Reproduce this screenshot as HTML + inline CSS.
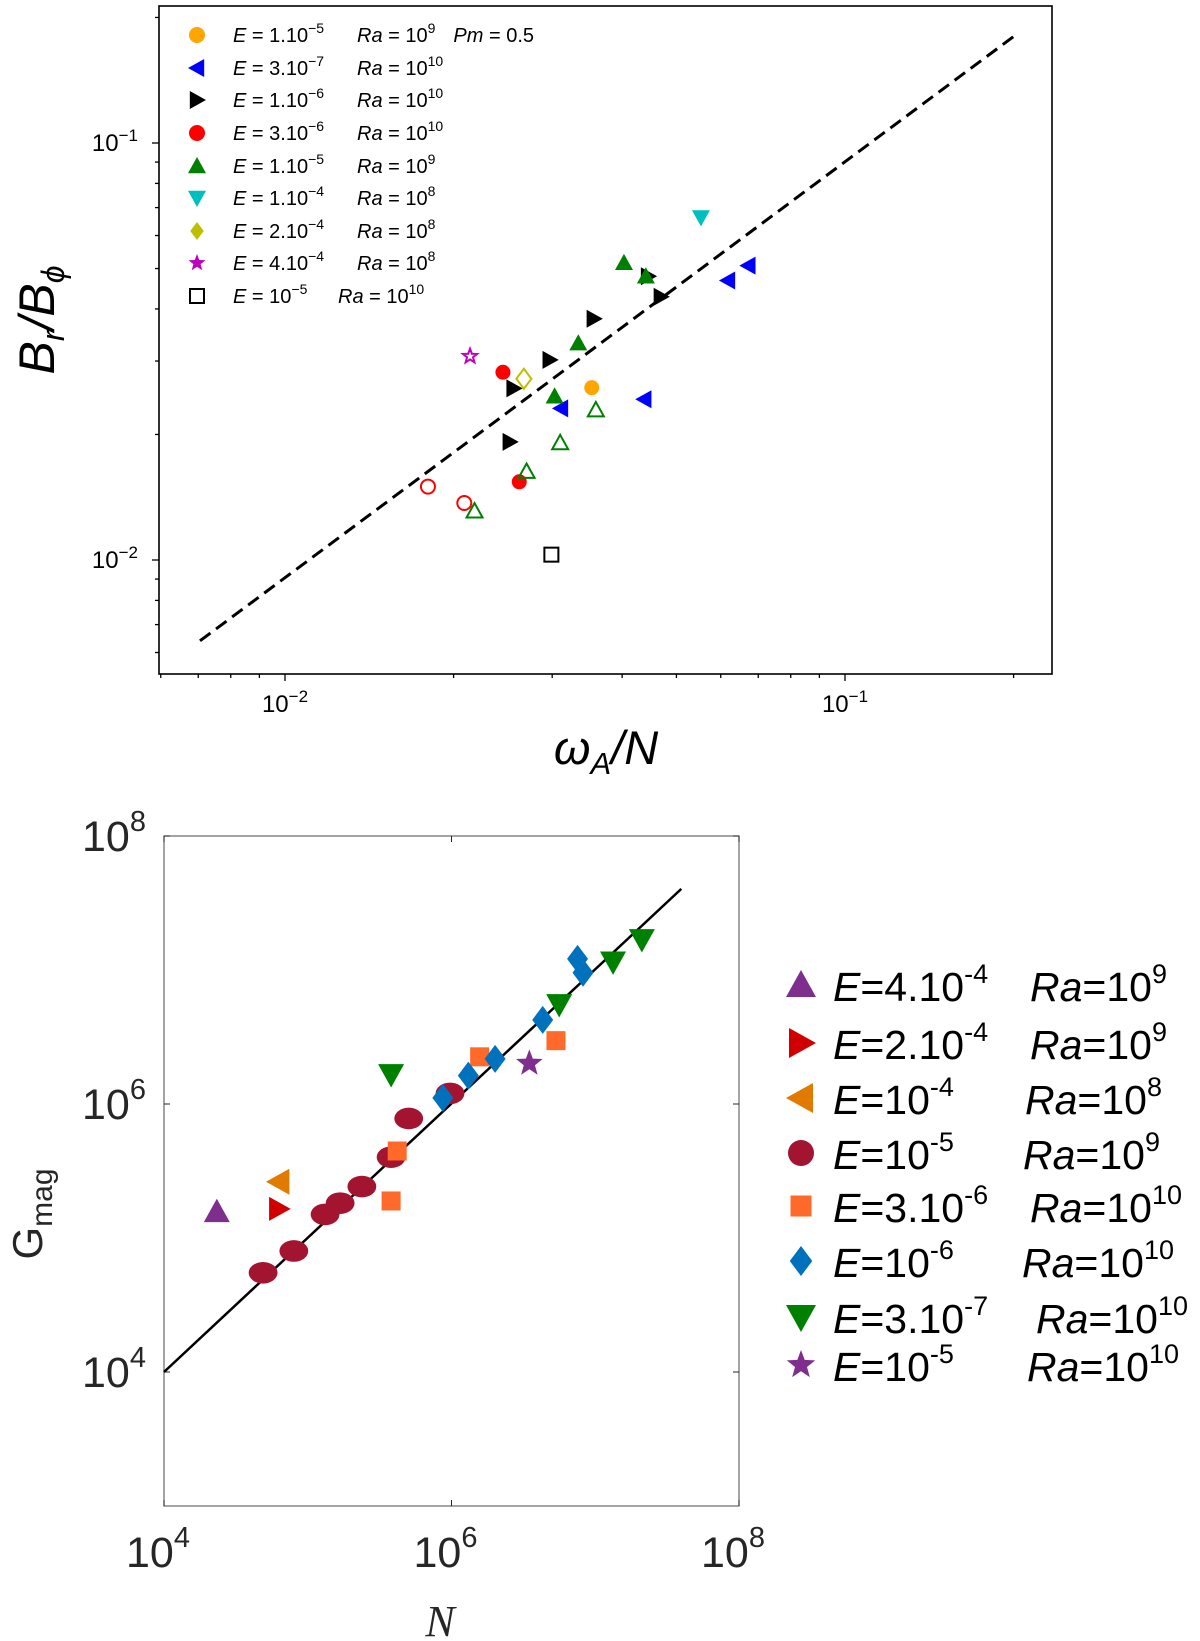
<!DOCTYPE html>
<html><head><meta charset="utf-8"><style>
html,body{margin:0;padding:0;background:#fff;}
svg{display:block;font-family:"Liberation Sans","DejaVu Sans",sans-serif;}
</style></head><body>
<svg id="fig" width="1200" height="1641" viewBox="0 0 1200 1641" xmlns="http://www.w3.org/2000/svg">
<g id="top"></g>
<g id="bot"></g>
</svg>
<script>
// ---------- TOP CHART DATA ----------
const topSeriesNames = ["E1e-5 Pm0.5","E3e-7","E1e-6","E3e-6","E3e-6 open","E1e-5","E1e-5 open","E1e-4","E2e-4","E4e-4","E1e-5 Ra1e10"];
const topOrangeX = [0.0353]; const topOrangeY = [0.0259];
const topBlueX = [0.0672,0.0618,0.0438,0.0311]; const topBlueY = [0.0508,0.0468,0.0243,0.0231];
const topBlackX = [0.0445,0.0469,0.0356,0.0297,0.0256,0.0252]; const topBlackY = [0.0479,0.0428,0.0379,0.0302,0.0258,0.0192];
const topRedX = [0.0245,0.0262]; const topRedY = [0.0282,0.0154];
const topRedOpenX = [0.0180,0.0209]; const topRedOpenY = [0.0150,0.0137];
const topGreenX = [0.0403,0.0441,0.0334,0.0303]; const topGreenY = [0.0516,0.0479,0.0331,0.0247];
const topGreenOpenX = [0.0359,0.0310,0.0270,0.0218]; const topGreenOpenY = [0.0229,0.0191,0.0163,0.0131];
const topCyanX = [0.0553]; const topCyanY = [0.0663];
const topYellowX = [0.0267]; const topYellowY = [0.0272];
const topMagentaX = [0.0214]; const topMagentaY = [0.0308];
const topSquareX = [0.0299]; const topSquareY = [0.0103];
const topFitX = [0.00705,0.2]; const topFitY = [0.0064,0.18];
const topXTicks = [0.01,0.1]; const topXTickLabels = ["−2","−1"];
const topYTicks = [0.01,0.1]; const topYTickLabels = ["−2","−1"];

// ---------- BOTTOM CHART DATA ----------
const botPurpleTriX=[2.33e4]; const botPurpleTriY=[1.57e5];
const botRedTriX=[6.28e4]; const botRedTriY=[1.65e5];
const botOrangeTriX=[6.31e4]; const botOrangeTriY=[2.63e5];
const botCircleX=[4.89e4,8.0e4,1.32e5,1.68e5,2.38e5,3.80e5,5.04e5,9.77e5];
const botCircleY=[5.5e4,8.0e4,1.50e5,1.82e5,2.42e5,4.01e5,7.80e5,1.20e6];
const botSquareX=[4.19e5,3.80e5,1.57e6,5.33e6]; const botSquareY=[4.46e5,1.89e5,2.25e6,2.97e6];
const botDiamondX=[8.71e5,1.31e6,2.01e6,4.31e6,7.53e6,8.22e6]; const botDiamondY=[1.11e6,1.63e6,2.17e6,4.24e6,1.21e7,9.53e6];
const botGreenX=[3.80e5,5.61e6,1.33e7,2.11e7]; const botGreenY=[1.66e6,5.53e6,1.15e7,1.69e7];
const botStarX=[3.48e6]; const botStarY=[2.01e6];
const botFitX=[1e4,3.97e7]; const botFitY=[1e4,4.03e7];
const botTicks=[1e4,1e6,1e8]; const botTickLabels=["4","6","8"];

const NS="http://www.w3.org/2000/svg";
const lg=Math.log10;
function xT(v){return 285+(lg(v)+2)*560;}
function yT(v){return 560-(lg(v)+2)*417;}
function xB(v){return 164+(lg(v)-4)*143.75;}
function yB(v){return 1372-(lg(v)-4)*134;}
function mk(tag,attrs,parent){const e=document.createElementNS(NS,tag);for(const k in attrs)e.setAttribute(k,attrs[k]);parent.appendChild(e);return e;}
function marker(parent,type,cx,cy,s,fill,stroke,sw){
  let e;
  if(type==="circle"){e=mk("circle",{cx:cx,cy:cy,r:s/2},parent);}
  else if(type==="ellipse"){e=mk("ellipse",{cx:cx,cy:cy,rx:s*0.6,ry:s*0.45},parent);}
  else if(type==="square"){e=mk("rect",{x:cx-s/2,y:cy-s/2,width:s,height:s},parent);}
  else{
    let p;const h=s/2;
    if(type==="up")p=[[cx,cy-h],[cx+h,cy+h*0.8],[cx-h,cy+h*0.8]];
    else if(type==="down")p=[[cx,cy+h],[cx+h,cy-h*0.8],[cx-h,cy-h*0.8]];
    else if(type==="left")p=[[cx-h,cy],[cx+h*0.8,cy-h],[cx+h*0.8,cy+h]];
    else if(type==="right")p=[[cx+h,cy],[cx-h*0.8,cy-h],[cx-h*0.8,cy+h]];
    else if(type==="diamond")p=[[cx,cy-h],[cx+h*0.75,cy],[cx,cy+h],[cx-h*0.75,cy]];
    else if(type==="star"){p=[];for(let i=0;i<10;i++){const r=i%2?h*0.42:h;const a=-Math.PI/2+i*Math.PI/5;p.push([cx+r*Math.cos(a),cy+r*Math.sin(a)]);}}
    e=mk("polygon",{points:p.map(q=>q.join(",")).join(" ")},parent);
  }
  e.setAttribute("fill",fill);e.setAttribute("stroke",stroke||"none");e.setAttribute("stroke-width",sw||0);
  
  
  return e;
}
function txt(parent,x,y,html,size,anchor,extra){
  const e=mk("text",{x:x,y:y,"font-size":size,"text-anchor":anchor||"start",fill:"#000"},parent);
  if(extra)for(const k in extra)e.setAttribute(k,extra[k]);
  e.innerHTML=html;return e;
}

// ---------- TOP CHART ----------
const T=document.getElementById("top");
const tf=mk("rect",{x:159,y:6,width:893,height:668,fill:"none",stroke:"#000","stroke-width":1.6},T);


for(let d=-3;d<=-1;d++){for(let m=1;m<=9;m++){const v=m*Math.pow(10,d);const x=xT(v);if(x<159||x>1052)continue;
  const t=mk("line",{x1:x,x2:x,y1:674,y2:674+(m===1?7:4),stroke:"#000","stroke-width":1.3},T);
  
  }}
for(let d=-3;d<=-1;d++){for(let m=1;m<=9;m++){const v=m*Math.pow(10,d);const y=yT(v);if(y<6||y>674)continue;
  const t=mk("line",{x1:159,x2:159-(m===1?7:4),y1:y,y2:y,stroke:"#000","stroke-width":1.3},T);
  
  }}
topXTicks.forEach((v,i)=>{const e=txt(T,xT(v),712,'10<tspan dy="-10" font-size="17">'+topXTickLabels[i]+'</tspan>',24,"middle");
  
  });
topYTicks.forEach((v,i)=>{const e=txt(T,138,yT(v)+8,'10<tspan dy="-10" font-size="17">'+topYTickLabels[i]+'</tspan>',24,"end");
  
  });
const tyl=txt(T,0,0,'B<tspan dy="10" font-size="32">r</tspan><tspan dy="-10">/B</tspan><tspan dy="10" font-size="32">ϕ</tspan>',50,"middle",{"font-style":"italic",transform:"translate(54,320) rotate(-90)"});


const txl=txt(T,606,764,'ω<tspan dy="10" font-size="31">A</tspan><tspan dy="-10">/N</tspan>',47,"middle",{"font-style":"italic"});


const fitT=mk("line",{x1:xT(topFitX[0]),y1:yT(topFitY[0]),x2:xT(topFitX[1]),y2:yT(topFitY[1]),stroke:"#000","stroke-width":3,"stroke-dasharray":"13,7"},T);


const topGroups=[
 [topCyanX,topCyanY,"down","#00bfbf",null,18],
 [topOrangeX,topOrangeY,"circle","#ffa500",null,15],
 [topBlueX,topBlueY,"left","#0000ff",null,18],
 [topBlackX,topBlackY,"right","#000",null,18],
 [topRedX,topRedY,"circle","#ff0000",null,15],
 [topRedOpenX,topRedOpenY,"circle","none","#ff0000",14],
 [topGreenX,topGreenY,"up","#008000",null,18],
 [topGreenOpenX,topGreenOpenY,"up","none","#008000",16],
 [topYellowX,topYellowY,"diamond","none","#bfbf00",20],
 [topMagentaX,topMagentaY,"star","none","#bf00bf",15],
 [topSquareX,topSquareY,"square","none","#000",14]];
topGroups.forEach(g=>{g[0].forEach((xv,i)=>{marker(T,g[2],xT(xv),yT(g[1][i]),g[5],g[3],g[4],g[4]?2:0);});});
const tLeg=[["circle","#ffa500",null,"1.10","−5","10","9",357,true],["left","#0000ff",null,"3.10","−7","10","10",357],["right","#000",null,"1.10","−6","10","10",357],["circle","#ff0000",null,"3.10","−6","10","10",357],["up","#008000",null,"1.10","−5","10","9",357],["down","#00bfbf",null,"1.10","−4","10","8",357],["diamond","#bfbf00",null,"2.10","−4","10","8",357],["star","#bf00bf",null,"4.10","−4","10","8",357],["square","none","#000","10","−5","10","10",338]];
const legRowY=[35,68,100,133,166,198,231,263,296];
tLeg.forEach((r,i)=>{const y=legRowY[i];
  marker(T,r[0],197,y,r[0]==="square"?14:(r[0]==="circle"?16:18),r[1],r[2],r[2]?2:0);
  const e=txt(T,233,y+7,'<tspan font-style="italic">E</tspan> = '+r[3]+'<tspan dy="-9" font-size="14">'+r[4]+'</tspan>',20,"start");
  
  
  const f=txt(T,r[7],y+7,'<tspan font-style="italic">Ra</tspan> = '+r[5]+'<tspan dy="-9" font-size="14">'+r[6]+'</tspan>'+(r[8]?'<tspan dy="9" dx="18" font-style="italic">Pm</tspan><tspan> = 0.5</tspan>':''),20,"start");
  
  });

// ---------- BOTTOM CHART ----------
const B=document.getElementById("bot");
const bf=mk("rect",{x:164,y:836,width:575,height:670,fill:"none",stroke:"#262626","stroke-width":1.2,"stroke-opacity":0.7},B);


botTicks.forEach((v,i)=>{
  const x=xB(v),y=yB(v);
  const a=mk("line",{x1:x,x2:x,y1:1506,y2:1500,stroke:"#262626","stroke-width":1},B);
  
  
  const b=mk("line",{x1:x,x2:x,y1:836,y2:842,stroke:"#262626","stroke-width":1},B);
  
  
  const c=mk("line",{x1:164,x2:170,y1:y,y2:y,stroke:"#262626","stroke-width":1},B);
  
  
  const d=mk("line",{x1:739,x2:733,y1:y,y2:y,stroke:"#262626","stroke-width":1},B);
  
  
  const l=txt(B,xB(v)-6,1567,'10<tspan dy="-20" font-size="29">'+botTickLabels[i]+'</tspan>',43,"middle",{fill:"#262626"});
  
  
  const m=txt(B,146,yB(v)+15,'10<tspan dy="-20" font-size="29">'+botTickLabels[i]+'</tspan>',43,"end",{fill:"#262626"});
  
  
});
const gyl=txt(B,0,0,'G<tspan dy="10" font-size="30">mag</tspan>',42,"middle",{fill:"#262626",transform:"translate(42,1214) rotate(-90)"});


const gxl=txt(B,440,1636,'N',44,"middle",{fill:"#262626","font-style":"italic","font-family":"Liberation Serif, serif"});


const fitB=mk("line",{x1:xB(botFitX[0]),y1:yB(botFitY[0]),x2:xB(botFitX[1]),y2:yB(botFitY[1]),stroke:"#000","stroke-width":2.5},B);


const botGroups=[
 [botCircleX,botCircleY,"ellipse","#a2142f",24],
 [botPurpleTriX,botPurpleTriY,"up","#7e2f8e",26],
 [botRedTriX,botRedTriY,"right","#d00000",24],
 [botOrangeTriX,botOrangeTriY,"left","#e07b00",26],
 [botSquareX,botSquareY,"square","#ff6929",19],
 [botDiamondX,botDiamondY,"diamond","#0072bd",28],
 [botGreenX,botGreenY,"down","#008000",26],
 [botStarX,botStarY,"star","#7e2f8e",28]];
botGroups.forEach(g=>{g[0].forEach((xv,i)=>{marker(B,g[2],xB(xv),yB(g[1][i]),g[4],g[3],null,0);});});
const bLeg=[["up","#7e2f8e","4.10","-4","9",1030],["right","#d00000","2.10","-4","9",1030],["left","#e07b00","10","-4","8",1025],["circle","#a2142f","10","-5","9",1023],["square","#ff6929","3.10","-6","10",1030],["diamond","#0072bd","10","-6","10",1022],["down","#008000","3.10","-7","10",1036],["star","#7e2f8e","10","-5","10",1027]];
const bRowY=[985,1043,1098,1153,1206,1261,1317,1365];
bLeg.forEach((r,i)=>{const y=bRowY[i];
  marker(B,r[0],801,y,r[0]==="square"?21:(r[0]==="circle"?26:30),r[1],null,0);
  const e=txt(B,833,y+16,'<tspan font-style="italic">E</tspan>='+r[2]+'<tspan dy="-18" font-size="27">'+r[3]+'</tspan>',41,"start");
  
  
  const f=txt(B,r[5],y+16,'<tspan font-style="italic">Ra</tspan>=10<tspan dy="-18" font-size="27">'+r[4]+'</tspan>',41,"start");
  
  });
</script>
</body></html>
